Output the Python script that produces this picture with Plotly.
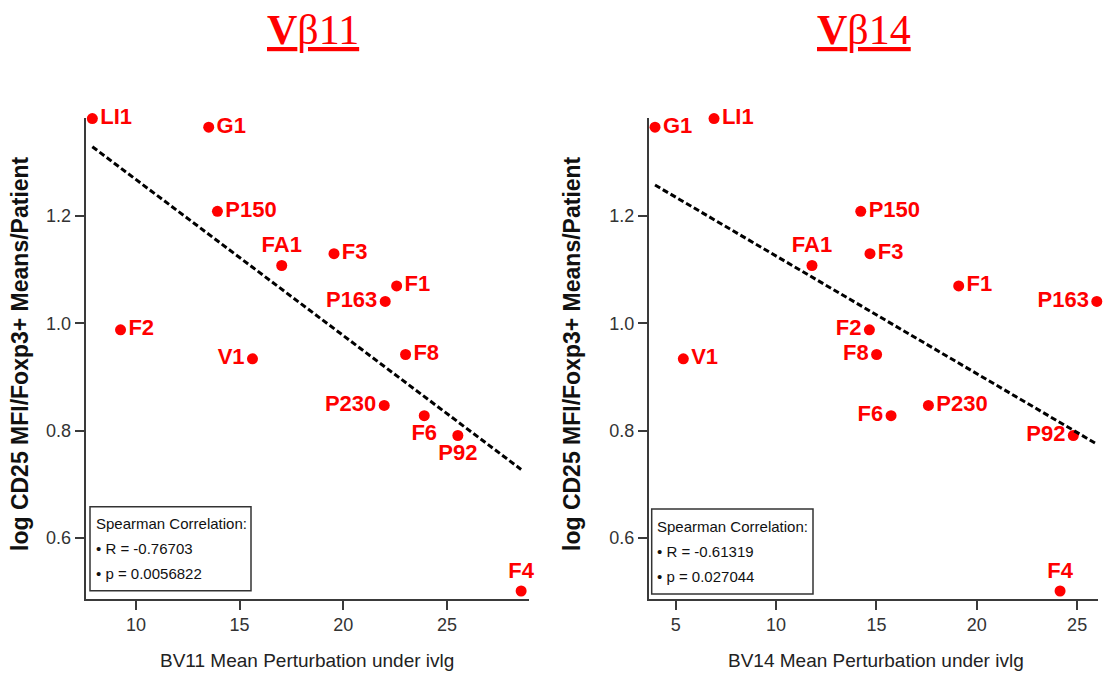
import numpy as np
import plotly.graph_objects as go

# ---------------- data ----------------
patients = ["LI1", "G1", "P150", "FA1", "F3", "P163", "F1", "F8", "F2", "V1", "P230", "F6", "P92", "F4"]
log_cd25 = [1.382, 1.366, 1.209, 1.108, 1.130, 1.041, 1.070, 0.942, 0.988, 0.934, 0.847, 0.828, 0.791, 0.501]
bv11_perturb = [7.9, 13.51, 13.93, 17.03, 19.55, 22.02, 22.57, 23.0, 9.26, 15.62, 21.97, 23.9, 25.52, 28.57]
bv14_perturb = [6.91, 3.97, 14.22, 11.79, 14.68, 25.98, 19.10, 15.01, 14.65, 5.38, 17.59, 15.73, 24.81, 24.15]
x_ticks_11 = [10, 15, 20, 25]
x_ticks_14 = [5, 10, 15, 20, 25]
y_ticks = [0.6, 0.8, 1.0, 1.2]
stats_11 = ["R = -0.76703", "p = 0.0056822"]
stats_14 = ["R = -0.61319", "p = 0.027044"]

# label placement (style)
pos_11 = ["middle right", "middle right", "middle right", "top center", "middle right", "middle left",
          "middle right", "middle right", "middle right", "middle left", "middle left", "bottom center",
          "bottom center", "top center"]
pos_14 = ["middle right", "middle right", "middle right", "top center", "middle right", "middle left",
          "middle right", "middle left", "middle left", "middle right", "middle right", "middle left",
          "middle left", "top center"]

W, H = 1104, 682
SANS = "Liberation Sans, Arial, sans-serif"
RED = "#ff0000"
AX = "#3a3a3a"

fig = go.Figure()


def add_panel(xs, pos, xaxis, yaxis):
    fig.add_trace(go.Scatter(
        x=xs, y=log_cd25, mode="markers+text", text=patients, textposition=pos,
        marker=dict(color=RED, size=11, line=dict(width=0)),
        textfont=dict(family=SANS, size=22, color=RED, weight="bold"),
        cliponaxis=False, xaxis=xaxis, yaxis=yaxis, showlegend=False, hoverinfo="skip"))
    slope, icpt = np.polyfit(np.array(xs), np.array(log_cd25), 1)
    xl = np.array([min(xs), max(xs)])
    fig.add_trace(go.Scatter(
        x=xl, y=slope * xl + icpt, mode="lines",
        line=dict(color="black", width=3, dash="6px,3px"),
        cliponaxis=False, xaxis=xaxis, yaxis=yaxis, showlegend=False, hoverinfo="skip"))


add_panel(bv11_perturb, pos_11, "x", "y")
add_panel(bv14_perturb, pos_14, "x2", "y2")

ydom = [1 - 598.5 / H, 1 - 117.5 / H]
axis_common = dict(showgrid=False, zeroline=False, showline=True, linecolor=AX, linewidth=2,
                   ticks="outside", ticklen=9, tickwidth=1.5, tickcolor=AX, mirror=False,
                   tickfont=dict(family=SANS, size=18, color="#333333"))

fig.update_layout(
    width=W, height=H, margin=dict(l=0, r=0, t=0, b=0),
    paper_bgcolor="white", plot_bgcolor="white",
    xaxis=dict(domain=[85.7 / W, 529 / W], range=[7.58, 28.95], tickvals=x_ticks_11,
               anchor="y", **axis_common),
    yaxis=dict(domain=ydom, range=[0.487, 1.384], tickvals=y_ticks, tickformat=".1f",
               anchor="x", **axis_common),
    xaxis2=dict(domain=[649 / W, 1098 / W], range=[3.67, 26.04], tickvals=x_ticks_14,
                anchor="y2", **axis_common),
    yaxis2=dict(domain=ydom, range=[0.487, 1.384], tickvals=y_ticks, tickformat=".1f",
                anchor="x2", **axis_common),
)

annotations = []
shapes = []
# titles
for txt, cx in [("<b>V</b>β11", 313), ("<b>V</b>β14", 864)]:
    annotations.append(dict(
        text=txt, x=cx / W, y=1 - 30 / H, xref="paper", yref="paper", showarrow=False,
        xanchor="center", yanchor="middle",
        font=dict(family="Liberation Serif, Times New Roman, serif", size=42, color=RED,
                  lineposition="under")))
# x-axis titles
for txt, cx in [("BV11 Mean Perturbation under ivlg", 307), ("BV14 Mean Perturbation under ivlg", 876)]:
    annotations.append(dict(
        text=txt, x=cx / W, y=1 - 660 / H, xref="paper", yref="paper", showarrow=False,
        xanchor="center", yanchor="middle",
        font=dict(family=SANS, size=19, color="#222222")))
# y-axis titles
for cx in [20, 572]:
    annotations.append(dict(
        text="<b>log CD25 MFI/Foxp3+ Means/Patient</b>", x=cx / W, y=1 - 354 / H,
        xref="paper", yref="paper", showarrow=False, textangle=-90,
        xanchor="center", yanchor="middle",
        font=dict(family=SANS, size=23, color="#111111")))
# stats boxes
for stats, (x0, y0, x1, y1), lines_y, tx in [
        (stats_11, (90, 506.7, 251, 590.7), (523, 548, 573), 94),
        (stats_14, (651.7, 509, 813, 594), (526.7, 551.7, 576.7), 655)]:
    shapes.append(dict(type="rect", xref="paper", yref="paper",
                       x0=x0 / W, x1=x1 / W, y0=1 - y1 / H, y1=1 - y0 / H,
                       line=dict(color="#333333", width=1.5), fillcolor="white", layer="below"))
    for txt, ly in zip(["Spearman Correlation:", "• " + stats[0], "• " + stats[1]], lines_y):
        annotations.append(dict(
            text=txt, x=tx / W, y=1 - ly / H, xref="paper", yref="paper", showarrow=False,
            xanchor="left", yanchor="middle", align="left",
            font=dict(family=SANS, size=15, color="#111111")))
fig.update_layout(annotations=annotations, shapes=shapes)

fig.write_html("out.html")
